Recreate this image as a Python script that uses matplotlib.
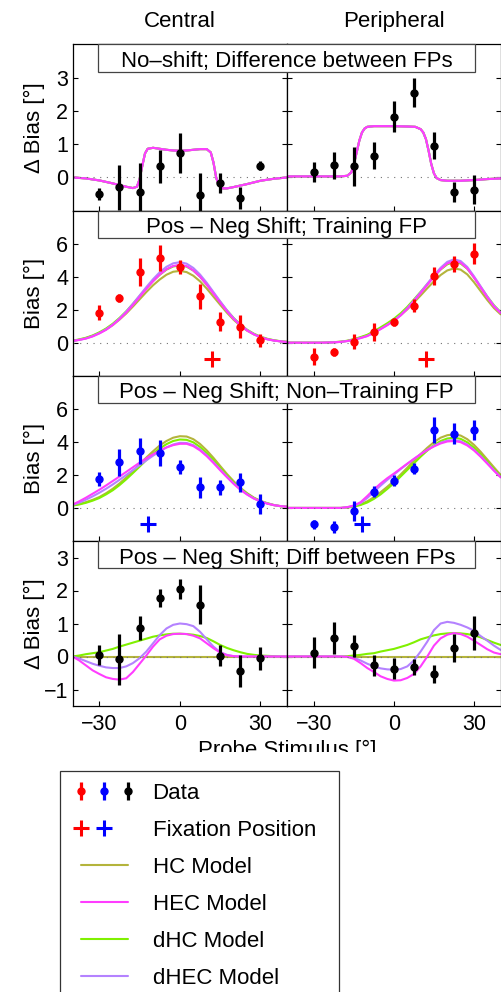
import numpy as np
import matplotlib
matplotlib.use("Agg")
import matplotlib.pyplot as plt
from matplotlib.patches import Rectangle
from matplotlib.legend_handler import HandlerTuple, HandlerLine2D, HandlerErrorbar
from matplotlib.container import ErrorbarContainer
from matplotlib.lines import Line2D

plt.rcParams['font.family'] = ['Liberation Sans', 'DejaVu Sans']
plt.rcParams['axes.unicode_minus'] = True

# ---------------------------------------------------------------- labels
column_titles = ["Central", "Peripheral"]
panel_titles = ["No\u2013shift; Difference between FPs",
                "Pos \u2013 Neg Shift; Training FP",
                "Pos \u2013 Neg Shift; Non\u2013Training FP",
                "Pos \u2013 Neg Shift; Diff between FPs"]
row_ylabels = ["\u0394 Bias [\u00b0]", "Bias [\u00b0]", "Bias [\u00b0]", "\u0394 Bias [\u00b0]"]
row_ylims = [(-1, 4), (-2, 8), (-2, 8), (-1.5, 3.5)]
row_yticks = [[0, 1, 2, 3], [0, 2, 4, 6], [0, 2, 4, 6], [-1, 0, 1, 2, 3]]
x_ticks = [-30, 0, 30]
x_label = "Probe Stimulus [\u00b0]"
model_names = ["HC Model", "HEC Model", "dHC Model", "dHEC Model"]

# ---------------------------------------------------------------- data
probe_deg = [-30, -22.5, -15, -7.5, 0, 7.5, 15, 22.5, 30]

# no-shift, difference between fixation positions
nsd_c_y = [-0.5, -0.3, -0.45, 0.33, 0.73, -0.52, -0.17, -0.62, 0.35]
nsd_c_e = [0.17, 0.68, 0.88, 0.5, 0.6, 0.66, 0.29, 0.33, 0.14]
nsd_p_y = [0.16, 0.36, 0.33, 0.65, 1.83, 2.55, 0.95, -0.45, -0.37]
nsd_p_e = [0.3, 0.41, 0.59, 0.41, 0.47, 0.43, 0.41, 0.3, 0.44]

# pos - neg shift, training fixation position
trn_c_y = [1.83, 2.7, 4.29, 5.14, 4.57, 2.8, 1.28, 0.98, 0.14]
trn_c_e = [0.47, 0.25, 0.83, 0.8, 0.42, 0.75, 0.6, 0.68, 0.38]
trn_p_y = [-0.85, -0.55, 0.06, 0.63, 1.24, 2.24, 4.02, 4.78, 5.39]
trn_p_e = [0.5, 0.25, 0.45, 0.55, 0.25, 0.4, 0.55, 0.5, 0.65]

# pos - neg shift, non-training fixation position
ntr_c_y = [1.75, 2.76, 3.43, 3.33, 2.5, 1.24, 1.24, 1.54, 0.22]
ntr_c_e = [0.45, 0.8, 0.8, 0.8, 0.43, 0.65, 0.45, 0.6, 0.6]
ntr_p_y = [-1.0, -1.16, -0.18, 0.98, 1.65, 2.36, 4.7, 4.49, 4.74]
ntr_p_e = [0.3, 0.37, 0.58, 0.33, 0.33, 0.33, 0.8, 0.65, 0.6]

# pos - neg shift, difference between fixation positions
dif_c_y = [0.05, -0.09, 0.86, 1.77, 2.05, 1.57, 0.03, -0.43, -0.05]
dif_c_e = [0.31, 0.77, 0.37, 0.27, 0.31, 0.6, 0.32, 0.49, 0.35]
dif_p_y = [0.11, 0.57, 0.31, -0.27, -0.37, -0.32, -0.53, 0.25, 0.71]
dif_p_e = [0.47, 0.49, 0.34, 0.32, 0.32, 0.25, 0.27, 0.42, 0.51]

# fixation positions (deg) for the training / non-training FP rows
fix_training = [12, 12]
fix_nontraining = [-12, -12]
fix_level = -1

# ---------------------------------------------------------------- model curves
nsd_c_x = [-40, -35, -30, -25, -20, -17.5, -16, -15, -14, -13, -12, -10, -7.5, -5,
           -2.5, 0, 2.5, 5, 7.5, 10, 11.5, 12.5, 13.5, 14.5, 16, 17.5, 20, 25, 30, 35, 40]
nsd_c_model = [0.0, -0.03, -0.09, -0.18, -0.28, -0.32, -0.28, -0.05, 0.35, 0.72, 0.86,
               0.89, 0.86, 0.83, 0.81, 0.8, 0.81, 0.83, 0.85, 0.85, 0.75, 0.45, 0.0,
               -0.25, -0.33, -0.33, -0.29, -0.2, -0.1, -0.04, 0.0]
nsd_p_x = [-40, -30, -20, -17.5, -16, -15, -14, -13, -12, -11, -10, -7.5, -5, 0, 5, 8,
           10, 11, 12, 13, 14, 15, 16, 17.5, 20, 25, 30, 35, 40]
nsd_p_model = [0.03, 0.03, 0.03, 0.05, 0.15, 0.4, 0.75, 1.1, 1.35, 1.47, 1.52, 1.54,
               1.54, 1.54, 1.53, 1.52, 1.45, 1.35, 1.15, 0.8, 0.4, 0.12, -0.02, -0.08,
               -0.1, -0.1, -0.08, -0.05, -0.03]

model_x = np.arange(-40, 40.01, 2.5)

trn_c_hc = [0.11, 0.18, 0.28, 0.41, 0.59, 0.8, 1.07, 1.4, 1.77, 2.19, 2.63, 3.07, 3.48,
            3.83, 4.12, 4.3, 4.35, 4.28, 4.06, 3.72, 3.28, 2.79, 2.3, 1.82, 1.39, 1.03,
            0.73, 0.51, 0.34, 0.22, 0.14, 0.08, 0.05]
trn_c_hec = [0.10, 0.17, 0.25, 0.38, 0.56, 0.78, 1.07, 1.42, 1.82, 2.28, 2.77, 3.26, 3.72,
             4.13, 4.45, 4.65, 4.72, 4.64, 4.38, 4.00, 3.51, 2.97, 2.43, 1.91, 1.44, 1.06,
             0.74, 0.51, 0.33, 0.21, 0.13, 0.08, 0.04]
trn_c_dhc = [0.12, 0.2, 0.3, 0.44, 0.63, 0.86, 1.15, 1.5, 1.9, 2.35, 2.83, 3.3, 3.74,
             4.12, 4.43, 4.62, 4.68, 4.61, 4.37, 4.0, 3.53, 3.0, 2.47, 1.96, 1.5, 1.11,
             0.79, 0.55, 0.37, 0.24, 0.15, 0.09, 0.05]
trn_c_dhec = [0.11, 0.17, 0.26, 0.40, 0.58, 0.81, 1.10, 1.46, 1.88, 2.36, 2.86, 3.37, 3.85,
              4.27, 4.60, 4.81, 4.88, 4.79, 4.53, 4.13, 3.63, 3.07, 2.51, 1.97, 1.49, 1.09,
              0.77, 0.52, 0.34, 0.21, 0.13, 0.08, 0.04]

trn_p_hc = [0, 0, 0, 0, 0, 0, 0.01, 0.03, 0.06, 0.11, 0.2, 0.31, 0.45, 0.65, 0.87, 1.1,
            1.36, 1.66, 2.02, 2.44, 2.86, 3.3, 3.72, 4.1, 4.38, 4.5, 4.43, 4.14, 3.67,
            3.13, 2.59, 2.1, 1.72]
trn_p_hec = [0, 0, 0, 0, 0, 0, 0.01, 0.02, 0.05, 0.1, 0.18, 0.28, 0.4, 0.6, 0.82, 1.06,
             1.32, 1.65, 2.05, 2.52, 3.0, 3.5, 4.0, 4.45, 4.8, 4.95, 4.85, 4.5, 3.95,
             3.35, 2.75, 2.2, 1.8]
trn_p_dhc = [0, 0, 0, 0, 0, 0, 0.01, 0.03, 0.06, 0.12, 0.22, 0.34, 0.48, 0.7, 0.93, 1.18,
             1.45, 1.78, 2.17, 2.62, 3.08, 3.55, 4.02, 4.43, 4.75, 4.88, 4.8, 4.48, 3.96,
             3.38, 2.8, 2.27, 1.85]
trn_p_dhec = [0, 0, 0, 0, 0, 0, 0.01, 0.02, 0.05, 0.1, 0.18, 0.29, 0.41, 0.61, 0.84, 1.08,
              1.35, 1.68, 2.09, 2.57, 3.06, 3.57, 4.08, 4.54, 4.9, 5.05, 4.95, 4.59, 4.03,
              3.42, 2.8, 2.24, 1.84]

ntr_c_hc = [0.16, 0.24, 0.35, 0.49, 0.66, 0.89, 1.16, 1.48, 1.84, 2.23, 2.64, 3.05, 3.43,
            3.78, 4.05, 4.25, 4.34, 4.32, 4.16, 3.87, 3.48, 3.03, 2.54, 2.06, 1.62, 1.22,
            0.90, 0.63, 0.43, 0.29, 0.18, 0.11, 0.07]
ntr_c_hec = [0.2, 0.4, 0.62, 0.86, 1.1, 1.36, 1.63, 1.9, 2.18, 2.46, 2.74, 3.0, 3.25,
             3.47, 3.66, 3.8, 3.88, 3.88, 3.74, 3.48, 3.13, 2.72, 2.28, 1.86, 1.46, 1.1,
             0.81, 0.57, 0.39, 0.26, 0.17, 0.11, 0.07]
ntr_c_dhc = [0.14, 0.21, 0.31, 0.44, 0.6, 0.82, 1.07, 1.38, 1.73, 2.11, 2.5, 2.9, 3.27,
             3.6, 3.86, 4.05, 4.14, 4.12, 3.97, 3.69, 3.32, 2.89, 2.42, 1.97, 1.55, 1.17,
             0.86, 0.6, 0.41, 0.28, 0.17, 0.1, 0.07]
ntr_c_dhec = [0.17, 0.32, 0.5, 0.7, 0.92, 1.16, 1.42, 1.7, 1.99, 2.29, 2.59, 2.88, 3.16,
              3.43, 3.66, 3.84, 3.94, 3.93, 3.8, 3.54, 3.19, 2.77, 2.33, 1.9, 1.49, 1.13,
              0.83, 0.58, 0.4, 0.27, 0.17, 0.11, 0.07]

ntr_p_hc = [0, 0, 0, 0, 0, 0, 0, 0, 0, 0.03, 0.1, 0.22, 0.4, 0.65, 0.95, 1.28, 1.63,
            2.02, 2.43, 2.85, 3.26, 3.64, 3.98, 4.25, 4.4, 4.45, 4.38, 4.16, 3.82, 3.4,
            2.93, 2.46, 2.0]
ntr_p_hec = [0, 0, 0, 0, 0, 0, 0, 0, 0, 0.05, 0.15, 0.35, 0.72, 1.12, 1.48, 1.8, 2.08,
             2.38, 2.68, 2.97, 3.25, 3.5, 3.72, 3.9, 4.02, 4.05, 3.98, 3.78, 3.48, 3.1,
             2.68, 2.25, 1.85]
ntr_p_dhc = [0, 0, 0, 0, 0, 0, 0, 0, 0, 0.02, 0.08, 0.18, 0.33, 0.55, 0.82, 1.15, 1.5,
             1.9, 2.3, 2.7, 3.1, 3.47, 3.8, 4.05, 4.2, 4.25, 4.18, 3.97, 3.65, 3.25, 2.8,
             2.35, 1.92]
ntr_p_dhec = [0, 0, 0, 0, 0, 0, 0, 0, 0, 0.04, 0.13, 0.3, 0.6, 0.98, 1.35, 1.7, 2.02,
              2.35, 2.66, 2.96, 3.25, 3.52, 3.75, 3.95, 4.07, 4.1, 4.03, 3.83, 3.52, 3.14,
              2.72, 2.28, 1.87]

dif_c_hc = [0.0] * 33
dif_c_hec = [0.0, -0.12, -0.27, -0.42, -0.53, -0.63, -0.68, -0.7, -0.66, -0.47, -0.22,
             0.03, 0.3, 0.52, 0.63, 0.68, 0.69, 0.68, 0.63, 0.55, 0.4, 0.25, 0.12, 0.04,
             0.01, 0, 0, 0, 0, 0, 0, 0, 0]
dif_c_dhc = [0.0, 0.03, 0.07, 0.1, 0.13, 0.18, 0.23, 0.3, 0.36, 0.42, 0.48, 0.54, 0.6,
             0.64, 0.67, 0.69, 0.69, 0.68, 0.66, 0.62, 0.56, 0.46, 0.35, 0.26, 0.19, 0.13,
             0.08, 0.05, 0.03, 0.02, 0.01, 0.0, 0.0]
dif_c_dhec = [0.0, -0.06, -0.14, -0.22, -0.28, -0.33, -0.35, -0.35, -0.3, -0.2, -0.05,
              0.15, 0.4, 0.65, 0.85, 0.96, 1.0, 0.98, 0.92, 0.75, 0.52, 0.3, 0.13, 0.05,
              0.01, 0, 0, 0, 0, 0, 0, 0, 0]

dif_p_hc = [0.0] * 33
dif_p_hec = [0, 0, 0, 0, 0, 0, 0, 0, 0, -0.01, -0.07, -0.2, -0.35, -0.47, -0.6, -0.68,
             -0.73, -0.72, -0.65, -0.53, -0.3, 0.0, 0.33, 0.55, 0.66, 0.71, 0.68, 0.6,
             0.48, 0.35, 0.22, 0.12, 0.07]
dif_p_dhc = [0, 0, 0, 0, 0, 0, 0, 0, 0.0, 0.01, 0.03, 0.05, 0.08, 0.1, 0.15, 0.19, 0.23,
             0.29, 0.35, 0.43, 0.52, 0.58, 0.64, 0.68, 0.7, 0.71, 0.7, 0.68, 0.64, 0.58,
             0.5, 0.42, 0.35]
dif_p_dhec = [0, 0, 0, 0, 0, 0, 0, 0, 0, -0.01, -0.04, -0.12, -0.22, -0.3, -0.36, -0.39,
              -0.4, -0.38, -0.3, -0.12, 0.15, 0.45, 0.8, 1.0, 1.05, 1.02, 0.96, 0.88,
              0.78, 0.62, 0.48, 0.33, 0.2]

# ---------------------------------------------------------------- styling
W, H = 501, 992
FS = 16
TICK_FS = 15.5
c_hc, c_hec, c_dhc, c_dhec = '#b4b43c', '#ff3dff', '#80f000', '#b482ff'
row_colors = ['black', '#ff0000', '#0000ff', 'black']
row_edges = [(44.3, 210.7), (210.7, 375.7), (375.7, 541.0), (541.0, 706.0)]
col_edges = [(72.5, 287.3), (287.3, 500.6)]

fig = plt.figure(figsize=(W / 100, H / 100), dpi=100)
fig.patch.set_facecolor('white')


def axes_px(x0, x1, y0, y1):
    return fig.add_axes([x0 / W, 1 - y1 / H, (x1 - x0) / W, (y1 - y0) / H])


panel_data = [
    [(nsd_c_y, nsd_c_e), (nsd_p_y, nsd_p_e)],
    [(trn_c_y, trn_c_e), (trn_p_y, trn_p_e)],
    [(ntr_c_y, ntr_c_e), (ntr_p_y, ntr_p_e)],
    [(dif_c_y, dif_c_e), (dif_p_y, dif_p_e)],
]
# model order inside each entry: HC, HEC, dHC, dHEC
panel_models = [
    [[(nsd_c_x, nsd_c_model)] * 4, [(nsd_p_x, nsd_p_model)] * 4],
    [[(model_x, trn_c_hc), (model_x, trn_c_hec), (model_x, trn_c_dhc), (model_x, trn_c_dhec)],
     [(model_x, trn_p_hc), (model_x, trn_p_hec), (model_x, trn_p_dhc), (model_x, trn_p_dhec)]],
    [[(model_x, ntr_c_hc), (model_x, ntr_c_hec), (model_x, ntr_c_dhc), (model_x, ntr_c_dhec)],
     [(model_x, ntr_p_hc), (model_x, ntr_p_hec), (model_x, ntr_p_dhc), (model_x, ntr_p_dhec)]],
    [[(model_x, dif_c_hc), (model_x, dif_c_hec), (model_x, dif_c_dhc), (model_x, dif_c_dhec)],
     [(model_x, dif_p_hc), (model_x, dif_p_hec), (model_x, dif_p_dhc), (model_x, dif_p_dhec)]],
]
panel_fix = [None, fix_training, fix_nontraining, None]
model_colors = [c_hc, c_hec, c_dhc, c_dhec]
draw_order = [0, 2, 3, 1]   # HC, dHC, dHEC, HEC (HEC on top)

eb_handles = {}
fix_handles = {}
model_handles = [None] * 4

for r in range(4):
    for c in range(2):
        ax = axes_px(col_edges[c][0], col_edges[c][1], row_edges[r][0], row_edges[r][1])
        ax.set_xlim(-40, 40)
        ax.set_ylim(*row_ylims[r])
        ax.set_xticks(x_ticks)
        ax.set_yticks(row_yticks[r])
        ax.tick_params(direction='in', length=3.6, width=0.8, top=True, right=True,
                       labelsize=TICK_FS, colors='black')
        ax.tick_params(axis='x', pad=5.5)
        ax.tick_params(axis='y', pad=3)
        for sp in ax.spines.values():
            sp.set_linewidth(0.9)
            sp.set_color('black')
        if r < 3:
            ax.tick_params(labelbottom=False)
        if c == 1:
            ax.tick_params(labelleft=False)
        else:
            ax.set_ylabel(row_ylabels[r], fontsize=FS)
            ax.yaxis.set_label_coords(-0.128, 0.5)
        if r == 0:
            ax.set_title(column_titles[c], fontsize=FS, pad=12.3)

        ax.axhline(0, color='0.45', ls=(0, (1, 5)), lw=0.8, zorder=2.5)

        for m in draw_order:
            mx, my = panel_models[r][c][m]
            ln, = ax.plot(mx, my, color=model_colors[m], lw=1.5, zorder=2,
                          solid_capstyle='round')
            model_handles[m] = ln

        yv, ev = panel_data[r][c]
        eb = ax.errorbar(probe_deg, yv, yerr=ev, fmt='o', color=row_colors[r], ms=5,
                         elinewidth=2.3, capsize=0, zorder=4)
        eb_handles.setdefault(r, eb)

        if panel_fix[r] is not None:
            fx, = ax.plot([panel_fix[r][c]], [fix_level], '+', color=row_colors[r],
                          ms=11, mew=2.2, zorder=4, clip_on=False)
            fix_handles.setdefault(r, fx)

# panel title boxes spanning both columns
for r in range(4):
    top = row_edges[r][0]
    fig.patches.append(Rectangle((98.3 / W, 1 - (top + 27.3) / H), (475 - 98.3) / W, 27.3 / H,
                                 transform=fig.transFigure, facecolor='white',
                                 edgecolor='#444444', lw=0.9, zorder=1))
    fig.text(286.7 / W, 1 - (top + 22.7) / H, panel_titles[r], ha='center', va='baseline',
             fontsize=FS, zorder=3)

fig.text(287.5 / W, 1 - 756 / H, x_label, ha='center', va='baseline', fontsize=FS, zorder=3)
fig.patches.append(Rectangle((0, 0), 1, 1 - 752 / H, transform=fig.transFigure,
                             facecolor='white', edgecolor='none', zorder=4))

# legend
fs_px = FS * 100 / 72
eff_w = 47.0
data_tuple = (eb_handles[1], eb_handles[2], eb_handles[0])
fix_tuple = (fix_handles[1], fix_handles[2])
xpad = 9.0 / fs_px
tuple_pad = (eff_w / 2) / fs_px
handler_map = {
    data_tuple: HandlerTuple(ndivide=None, pad=tuple_pad, xpad=xpad),
    fix_tuple: HandlerTuple(ndivide=3, pad=tuple_pad, xpad=xpad),
    Line2D: HandlerLine2D(xpad=xpad),
    ErrorbarContainer: HandlerErrorbar(xerr_size=0.4),
}
leg = fig.legend([data_tuple, fix_tuple] + model_handles,
                 ["Data", "Fixation Position"] + model_names,
                 loc='upper left', bbox_to_anchor=(60 / W, 1 - 771 / H, 279 / W, 0),
                 bbox_transform=fig.transFigure, mode='expand', borderaxespad=0,
                 fontsize=FS, frameon=True, fancybox=False, framealpha=1,
                 edgecolor='#333333', borderpad=0.52, handlelength=(eff_w + 9) / fs_px,
                 handletextpad=25 / fs_px, labelspacing=0.72, handler_map=handler_map)
leg.get_frame().set_linewidth(0.9)
leg.set_zorder(5)

fig.savefig('out.png', dpi=100, facecolor='white')
